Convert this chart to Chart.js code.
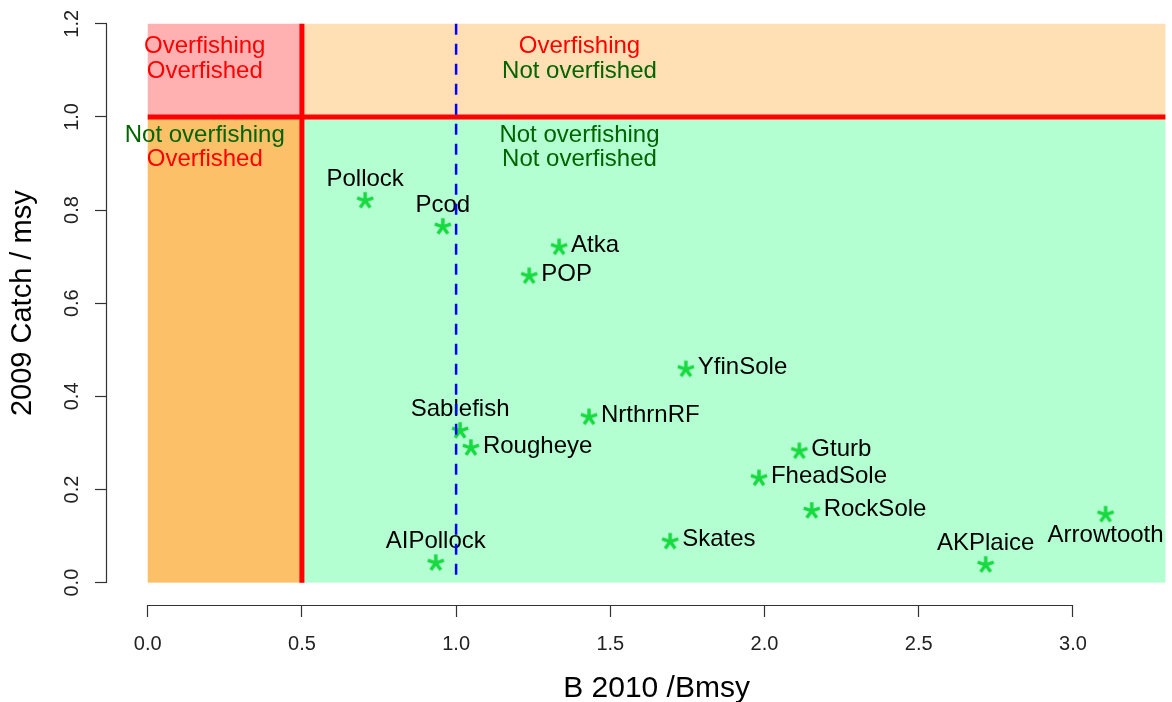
<!DOCTYPE html>
<html>
<head>
<meta charset="utf-8">
<script src="https://cdn.jsdelivr.net/npm/chart.js@4/dist/chart.umd.min.js"></script>
<style>
  html, body { margin: 0; padding: 0; background: #ffffff; }
  #wrap { width: 1172px; height: 702px; }
</style>
</head>
<body>
<div id="wrap"><canvas id="c" width="1172" height="702"></canvas></div>
<script>
// ---------------- data ----------------
const species    = ["Pollock","Pcod","Atka","POP","YfinSole","NrthrnRF","Sablefish","Rougheye","Gturb","FheadSole","RockSole","Skates","AIPollock","AKPlaice","Arrowtooth"];
const bRatio     = [0.705, 0.957, 1.334, 1.237, 1.745, 1.431, 1.013, 1.048, 2.113, 1.982, 2.153, 1.694, 0.934, 2.717, 3.106];
const catchRatio = [0.822, 0.766, 0.722, 0.660, 0.460, 0.357, 0.328, 0.291, 0.284, 0.226, 0.156, 0.090, 0.044, 0.040, 0.148];
const labelPos   = [3, 3, 4, 4, 4, 4, 3, 4, 4, 4, 4, 4, 3, 3, 1]; // R pos: 1 below, 3 above, 4 right

const xTickValues = [0, 0.5, 1.0, 1.5, 2.0, 2.5, 3.0];
const yTickValues = [0, 0.2, 0.4, 0.6, 0.8, 1.0, 1.2];

const xZoneEdges = [0, 0.5, 3.3];   // B/Bmsy: overfished | not overfished
const yZoneEdges = [0, 1.0, 1.2];   // catch/msy: not overfishing | overfishing
const bTarget    = 1.0;

const zoneFishing = ["Not overfishing", "Overfishing"];
const zoneStock   = ["Overfished", "Not overfished"];

const xTitle = "B 2010 /Bmsy";
const yTitle = "2009 Catch / msy";

// ---------------- styles ----------------
const FONT = "'Liberation Sans', Arial, Helvetica, sans-serif";
const zoneFill = [["#FCC068", "#B3FFD2"], ["#FFB0B0", "#FFDFB3"]]; // [fishingIdx][stockIdx]
const fishingColor = ["#006400", "#FF0000"];
const stockColor   = ["#FF0000", "#006400"];
const zoneTextX = [0.185, 1.40];
const zoneTextY = [[0.960, 0.908], [1.152, 1.098]];
const starColor = "#18DA40";

function makeStar() {
  const c = document.createElement('canvas');
  c.width = 24; c.height = 24;
  const g = c.getContext('2d');
  g.strokeStyle = starColor;
  g.lineWidth = 3.5;
  g.lineCap = 'butt';
  const cx = 12, cy = 12.8, L = 8.5;
  g.beginPath();
  for (let k = 0; k < 5; k++) {
    const a = (-90 + 72 * k) * Math.PI / 180;
    g.moveTo(cx, cy);
    g.lineTo(cx + L * Math.cos(a), cy + L * Math.sin(a));
  }
  g.stroke();
  return c;
}

const xMin = -0.132, pxPerX = 308.4;
const xMax = xMin + (1172 - 107) / pxPerX;

function noPad(s) { s.paddingLeft = 0; s.paddingRight = 0; s.paddingTop = 0; s.paddingBottom = 0; }

const zonePlugin = {
  id: 'zones',
  beforeDatasetsDraw(chart) {
    const {ctx, scales: {x, y}} = chart;
    ctx.save();
    for (let fi = 0; fi < 2; fi++) {
      for (let si = 0; si < 2; si++) {
        const x0 = x.getPixelForValue(xZoneEdges[si]);
        const x1 = x.getPixelForValue(xZoneEdges[si + 1]);
        const y0 = y.getPixelForValue(yZoneEdges[fi + 1]);
        const y1 = y.getPixelForValue(yZoneEdges[fi]);
        ctx.fillStyle = zoneFill[fi][si];
        ctx.fillRect(x0, y0, x1 - x0, y1 - y0);
      }
    }
    ctx.font = "24px " + FONT;
    ctx.textAlign = 'center';
    ctx.textBaseline = 'middle';
    for (let fi = 0; fi < 2; fi++) {
      for (let si = 0; si < 2; si++) {
        const px = x.getPixelForValue(zoneTextX[si]);
        ctx.fillStyle = fishingColor[fi];
        ctx.fillText(zoneFishing[fi], px, y.getPixelForValue(zoneTextY[fi][0]));
        ctx.fillStyle = stockColor[si];
        ctx.fillText(zoneStock[si], px, y.getPixelForValue(zoneTextY[fi][1]));
      }
    }
    ctx.restore();
  },
  afterDatasetDraw(chart, args) {
    if (args.index !== 0) return;
    const {ctx} = chart;
    const meta = chart.getDatasetMeta(0);
    ctx.save();
    ctx.font = "24px " + FONT;
    ctx.fillStyle = "#000000";
    meta.data.forEach((pt, i) => {
      const p = labelPos[i];
      if (p === 4) {
        ctx.textAlign = 'left'; ctx.textBaseline = 'middle';
        ctx.fillText(species[i], pt.x + 12, pt.y - 1);
      } else if (p === 3) {
        ctx.textAlign = 'center'; ctx.textBaseline = 'alphabetic';
        ctx.fillText(species[i], pt.x, pt.y - 14);
      } else if (p === 1) {
        ctx.textAlign = 'center'; ctx.textBaseline = 'alphabetic';
        ctx.fillText(species[i], pt.x, pt.y + 28);
      }
    });
    ctx.restore();
  },
  afterDraw(chart) {
    const {ctx, chartArea, scales: {x, y}} = chart;
    ctx.save();
    ctx.strokeStyle = '#333333';
    ctx.lineWidth = 1.2;
    ctx.beginPath();
    const yb = Math.round(chartArea.bottom) + 0.5;
    ctx.moveTo(x.getPixelForValue(xTickValues[0]), yb);
    ctx.lineTo(x.getPixelForValue(xTickValues[xTickValues.length - 1]), yb);
    const xl = Math.round(chartArea.left) - 0.5;
    ctx.moveTo(xl, y.getPixelForValue(yTickValues[0]));
    ctx.lineTo(xl, y.getPixelForValue(yTickValues[yTickValues.length - 1]));
    ctx.stroke();
    // x axis title centred on the plotting range
    ctx.font = "30px " + FONT;
    ctx.fillStyle = '#000000';
    ctx.textAlign = 'center';
    ctx.textBaseline = 'alphabetic';
    ctx.fillText(xTitle, x.getPixelForValue((xZoneEdges[0] + xZoneEdges[2]) / 2), 697);
    ctx.restore();
  }
};

const ctx = document.getElementById('c').getContext('2d');
new Chart(ctx, {
  type: 'scatter',
  data: {
    datasets: [
      {
        label: 'stocks',
        data: bRatio.map((v, i) => ({x: v, y: catchRatio[i]})),
        pointStyle: makeStar(),
        pointRadius: 8,
        order: 2
      },
      {
        label: 'overfished limit',
        data: [{x: xZoneEdges[1], y: yZoneEdges[0]}, {x: xZoneEdges[1], y: yZoneEdges[2]}],
        showLine: true, borderColor: '#FF0000', borderWidth: 5, pointRadius: 0, order: 1
      },
      {
        label: 'overfishing limit',
        data: [{x: xZoneEdges[0], y: yZoneEdges[1]}, {x: xZoneEdges[2], y: yZoneEdges[1]}],
        showLine: true, borderColor: '#FF0000', borderWidth: 5, pointRadius: 0, order: 1
      },
      {
        label: 'Bmsy',
        data: [{x: bTarget, y: yZoneEdges[2]}, {x: bTarget, y: yZoneEdges[0]}],
        showLine: true, borderColor: '#0000FF', borderWidth: 2.5, borderDash: [11, 9], pointRadius: 0, order: 0
      }
    ]
  },
  options: {
    responsive: false,
    animation: false,
    devicePixelRatio: 1,
    layout: { autoPadding: false, padding: { top: 1.4, left: 0, right: 0, bottom: 0 } },
    plugins: { legend: { display: false }, tooltip: { enabled: false }, title: { display: false } },
    scales: {
      x: {
        type: 'linear',
        min: xMin, max: xMax,
        afterBuildTicks: (s) => { s.ticks = xTickValues.map(v => ({value: v})); },
        afterFit: (s) => { s.height = 97; noPad(s); },
        border: { display: false },
        grid: { display: true, drawOnChartArea: false, drawTicks: true, tickLength: 12, tickColor: '#333333', tickWidth: 1.2 },
        ticks: {
          autoSkip: false, minRotation: 0, maxRotation: 0, padding: 15,
          color: '#222222', font: { family: FONT, size: 20 },
          callback: (v) => Number(v).toFixed(1)
        },
        title: { display: false }
      },
      y: {
        type: 'linear',
        min: -0.048, max: 1.248,
        afterBuildTicks: (s) => { s.ticks = yTickValues.map(v => ({value: v})); },
        afterFit: (s) => { s.width = 107; noPad(s); },
        border: { display: false },
        grid: { display: true, drawOnChartArea: false, drawTicks: true, tickLength: 12, tickColor: '#333333', tickWidth: 1.2 },
        ticks: {
          autoSkip: false, minRotation: 90, maxRotation: 90, crossAlign: 'center', padding: 8.6,
          color: '#222222', font: { family: FONT, size: 20 },
          callback: (v) => Number(v).toFixed(1)
        },
        title: {
          display: true, text: yTitle, color: '#000000',
          font: { family: FONT, size: 29 }, padding: { top: 6, bottom: 0 }
        }
      }
    }
  },
  plugins: [zonePlugin]
});
</script>
</body>
</html>
